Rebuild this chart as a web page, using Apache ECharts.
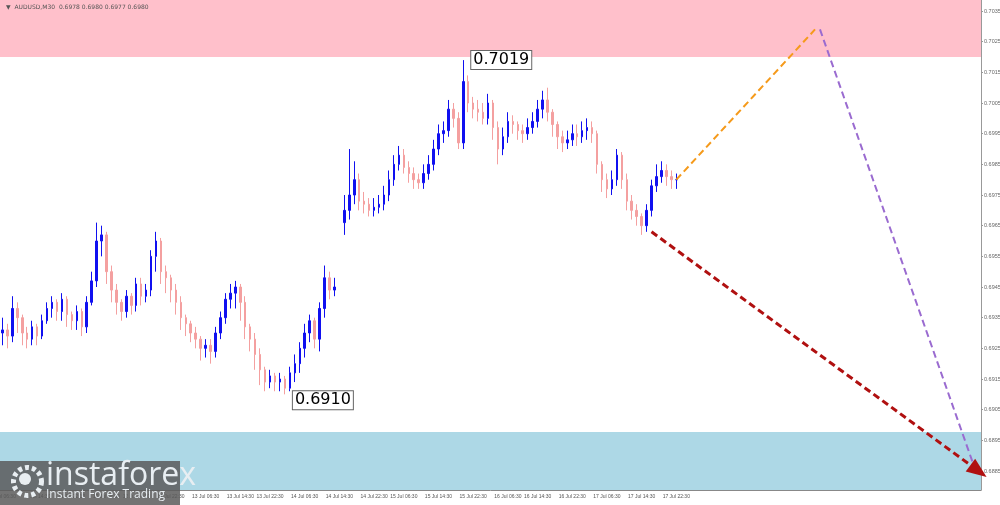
<!DOCTYPE html>
<html><head><meta charset="utf-8">
<script src="https://cdn.jsdelivr.net/npm/echarts@6/dist/echarts.min.js"></script>
<style>html,body{margin:0;padding:0;background:#fff}#c{width:1000px;height:505px}</style>
</head><body><div id="c"></div>
<script>
// ---- data ----
const leftCloses=[.6931,.6929,.6938,.6935,.6930,.6928,.6932,.6929,.6934,.6938,
.6940,.6937,.6941,.6936,.6934,.6937,.6932,.6940,.6947,.6960,
.6962,.6950,.6944,.6940,.6937,.6942,.6939,.6946,.6942,.6944,
.6955,.6960,.6950,.6948,.6944,.6940,.6935,.6933,.6930,.6928,
.6925,.6926,.6924,.6930,.6935,.6941,.6943,.6945,.6940,.6932,
.6928,.6923,.6918,.6914,.6916,.6914,.6915,.6912,.6917,.6920,
.6925,.6930,.6934,.6928,.6938,.6948,.6944,.6945];
const leftLows=[.6926,.6925,.6927,.6930,.6926,.6925,.6926,.6926,.6928,.6933,
.6935,.6934,.6934,.6932,.6931,.6931,.6929,.6930,.6939,.6945,
.6955,.6946,.6940,.6936,.6934,.6935,.6936,.6937,.6939,.6940,
.6942,.6950,.6946,.6943,.6940,.6936,.6931,.6929,.6927,.6925,
.6921,.6922,.6920,.6922,.6928,.6933,.6938,.6938,.6934,.6928,
.6924,.6918,.6913,.6911,.6912,.6911,.6911,.6910,.6911,.6914,
.6917,.6922,.6927,.6925,.6924,.6935,.6941,.6942];
const leftHighs=[.6935,.6933,.6942,.6940,.6936,.6932,.6934,.6933,.6936,.6940,
.6942,.6941,.6943,.6942,.6937,.6939,.6938,.6942,.6950,.6966,
.6965,.6963,.6952,.6946,.6941,.6944,.6943,.6948,.6948,.6946,
.6957,.6963,.6961,.6952,.6949,.6946,.6942,.6936,.6934,.6932,
.6929,.6928,.6928,.6932,.6937,.6943,.6946,.6947,.6946,.6942,
.6933,.6930,.6925,.6919,.6918,.6917,.6917,.6916,.6919,.6923,
.6927,.6933,.6936,.6935,.6940,.6952,.6950,.6948];
const rightCloses=[.6970,.6975,.6980,.6973,.6972,.6970,.6971,.6972,.6975,.6980,
.6985,.6988,.6984,.6982,.6980,.6979,.6982,.6985,.6990,.6995,
.6996,.7003,.7000,.6992,.7012,.7005,.7003,.7002,.7000,.7005,
.6997,.6990,.6994,.6999,.6998,.6996,.6995,.6997,.6999,.7003,
.7006,.7002,.6998,.6994,.6992,.6993,.6995,.6994,.6996,.6997,
.6995,.6985,.6980,.6977,.6980,.6988,.6980,.6973,.6970,.6968,
.6965,.6970,.6978,.6981,.6983,.6981,.6980,.6980];
const rightLows=[.6962,.6967,.6972,.6970,.6969,.6968,.6968,.6969,.6970,.6973,
.6978,.6983,.6982,.6979,.6977,.6977,.6977,.6980,.6983,.6988,
.6992,.6994,.6997,.6990,.6990,.7002,.7000,.6999,.6998,.6998,
.6993,.6985,.6988,.6992,.6995,.6993,.6992,.6993,.6995,.6997,
.7000,.6999,.6994,.6990,.6989,.6990,.6991,.6991,.6992,.6993,
.6992,.6982,.6976,.6974,.6975,.6978,.6977,.6970,.6967,.6965,
.6962,.6963,.6968,.6976,.6979,.6978,.6977,.6977];
const rightHighs=[.6975,.6990,.6986,.6982,.6976,.6974,.6974,.6975,.6978,.6983,
.6988,.6991,.6990,.6986,.6984,.6982,.6985,.6988,.6993,.6998,
.6999,.7006,.7005,.7002,.7019,.7014,.7007,.7006,.7005,.7008,
.7006,.6999,.6997,.7002,.7001,.6999,.6998,.7000,.7002,.7006,
.7009,.7010,.7003,.6999,.6996,.6996,.6998,.6998,.6999,.7000,
.6999,.6996,.6986,.6982,.6983,.6990,.6989,.6982,.6975,.6972,
.6969,.6972,.6980,.6985,.6986,.6985,.6983,.6982];
const firstOpens=[.6930,.6966];
const timeLabels=['11 Jul 06:30','11 Jul 14:30','11 Jul 22:30','12 Jul 06:30','12 Jul 14:30','12 Jul 22:30','13 Jul 06:30','13 Jul 14:30','13 Jul 22:30','14 Jul 06:30','14 Jul 14:30','14 Jul 22:30','15 Jul 06:30','15 Jul 14:30','15 Jul 22:30','16 Jul 06:30','16 Jul 14:30','16 Jul 22:30','17 Jul 06:30','17 Jul 14:30','17 Jul 22:30'];
const timeLabelSlots=[0,7,14,21,27,34,41,48,54,61,68,75,81,88,95,102,108,115,122,129,136];
const priceTicks=[0.6885,0.6895,0.6905,0.6915,0.6925,0.6935,0.6945,0.6955,0.6965,0.6975,0.6985,0.6995,0.7005,0.7015,0.7025,0.7035];
const resistanceZone=[0.7020,0.70386];
const supportZone=[0.68788,0.68977];
const orangePath=[[136,0.6980],[164,0.7029]];
const purplePath=[[165,0.7029],[196,0.6887]];
const redPath=[[131,0.6963],[197,0.6885]];
const highLabel=[93,0.7019,'0.7019'];
const lowLabel=[57,0.6910,'0.6910'];
const bidAsk=[0.6983,0.6980];
const TOTAL_SLOTS=198;

// ---- build ----
function section(closes,lows,highs,open0){
  const out=[];let prev=open0;
  for(let i=0;i<closes.length;i++){out.push([prev,closes[i],lows[i],highs[i]]);prev=closes[i];}
  return out;
}
const candles=[...section(leftCloses,leftLows,leftHighs,firstOpens[0]),'-',...section(rightCloses,rightLows,rightHighs,firstOpens[1])];
const cats=[];for(let i=0;i<TOTAL_SLOTS;i++){const k=timeLabelSlots.indexOf(i);cats.push(k>=0?timeLabels[k]:'s'+i);}
while(candles.length<TOTAL_SLOTS)candles.push('-');

const ch=echarts.init(document.getElementById('c'));
const dash=(p,color,w,arrow)=>({type:'line',data:[],markLine:{silent:true,animation:false,symbol:arrow?['none','triangle']:['none','none'],symbolSize:arrow?[16,20]:0,label:{show:false},lineStyle:{type:[7,4],color:color,width:w},data:[[{coord:p[0]},{coord:p[1]}]]}});
ch.setOption({
  animation:false,
  grid:{left:0,right:19,top:0,bottom:15,outerBoundsMode:'none',containLabel:false},
  xAxis:{type:'category',data:cats,boundaryGap:true,
    axisLine:{lineStyle:{color:'#888'}},axisTick:{show:false},
    axisLabel:{interval:0,fontSize:5,color:'#555',margin:4,hideOverlap:false,formatter:v=>v.charAt(0)==='s'?'':v},splitLine:{show:false}},
  yAxis:{type:'value',position:'right',min:supportZone[0],max:resistanceZone[1],scale:true,
    axisLine:{show:true,lineStyle:{color:'#999'}},
    axisTick:{show:true,length:2,customValues:priceTicks,lineStyle:{color:'#999'}},
    axisLabel:{customValues:priceTicks,fontSize:5.5,color:'#666',margin:3,formatter:v=>v.toFixed(4)},
    splitLine:{show:false}},
  graphic:[
    {type:'text',left:6,top:4,style:{text:'▼  AUDUSD,M30  0.6978 0.6980 0.6977 0.6980',fontSize:6,fill:'#555',fontFamily:'DejaVu Sans'}},
    {type:'rect',left:0,top:461,shape:{width:180,height:44},style:{fill:'rgba(90,90,90,0.85)'},z:50},
    {type:'circle',left:11,top:465,shape:{r:14},style:{fill:'none',stroke:'#e8eef2',lineWidth:5,lineDash:[4,3]},z:51},
    {type:'circle',left:19,top:473,shape:{r:6},style:{fill:'#e8eef2'},z:51},
    {type:'text',left:46,top:460,style:{text:'instaforex',fontSize:32,fill:'#e8eef2',fontFamily:'Open Sans'},z:51},
    {type:'text',left:46,top:489,style:{text:'Instant Forex Trading',fontSize:12,fill:'#e8eef2',fontFamily:'Open Sans'},z:51}
  ],
  series:[
    {type:'candlestick',data:candles,barWidth:2,
      itemStyle:{color:'#1010f0',color0:'#f4a0a0',borderColor:'#1010f0',borderColor0:'#f4a0a0',borderWidth:1},
      markArea:{silent:true,itemStyle:{color:'#ffc0cb'},z:-1,data:[
        [{yAxis:resistanceZone[0]},{yAxis:resistanceZone[1]}],
        [{yAxis:supportZone[0],itemStyle:{color:'#add8e6'}},{yAxis:supportZone[1]}]]},
      markPoint:{silent:true,symbol:'rect',symbolSize:0,data:[
        {coord:[highLabel[0],highLabel[1]],label:{show:true,formatter:highLabel[2],position:'right',offset:[3,0],fontSize:16,color:'#000',backgroundColor:'#fff',borderColor:'#666',borderWidth:1,padding:[1,2],fontFamily:'DejaVu Sans'}},
        {coord:[lowLabel[0],lowLabel[1]],label:{show:true,formatter:lowLabel[2],position:'right',offset:[3,6],fontSize:16,color:'#000',backgroundColor:'#fff',borderColor:'#666',borderWidth:1,padding:[1,2],fontFamily:'DejaVu Sans'}}
      ]},
      markLine:{silent:true,symbol:'none',lineStyle:{opacity:0},data:[
        {yAxis:bidAsk[0],label:{position:'end',formatter:bidAsk[0].toFixed(4),fontSize:6,color:'#fff',backgroundColor:'#000',padding:[1,2],distance:2}},
        {yAxis:bidAsk[1],label:{position:'end',formatter:bidAsk[1].toFixed(4),fontSize:6,color:'#fff',backgroundColor:'#777',padding:[1,2],distance:2}}]}},
    dash(orangePath,'#f59a1b',2,false),
    dash(purplePath,'#9a6bd0',2,false),
    dash(redPath,'#b01010',3,true)
  ]
});
</script></body></html>
